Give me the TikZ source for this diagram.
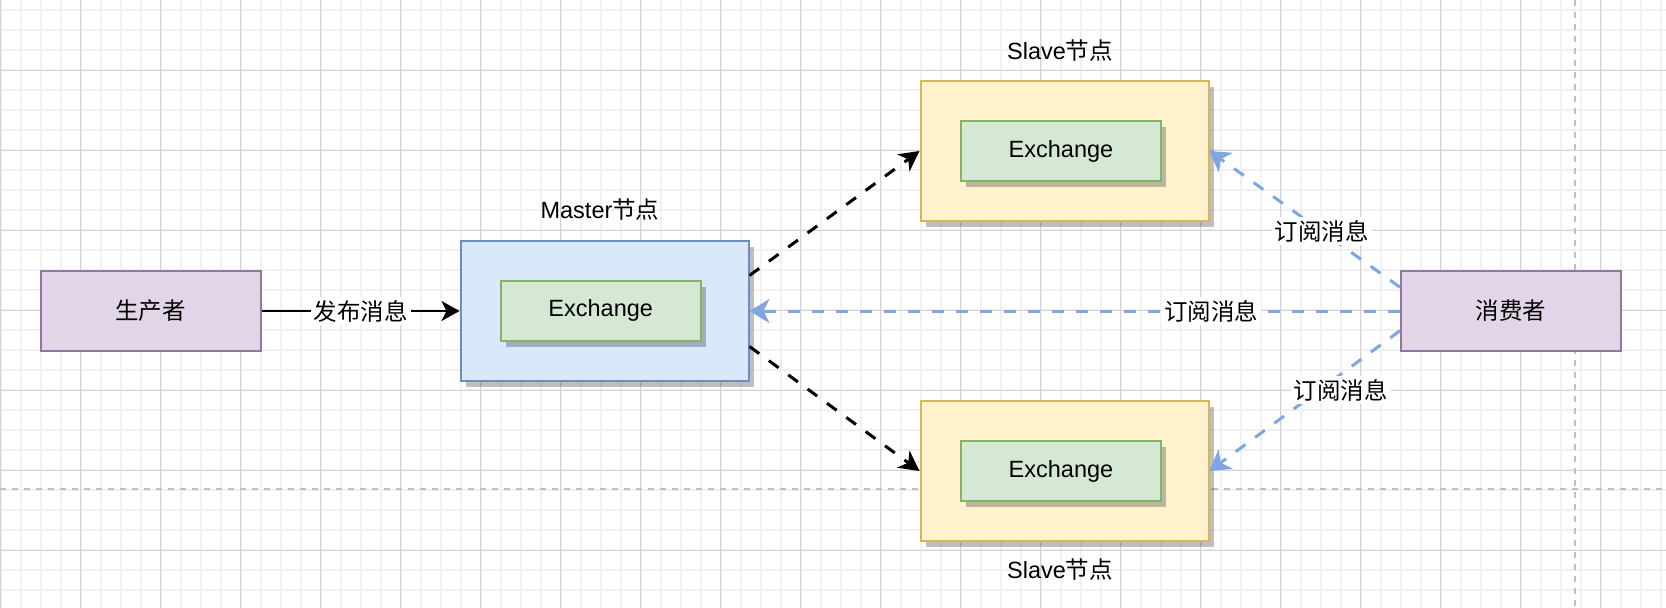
\documentclass[tikz,border=0pt]{standalone}
\usepackage{fontspec}
\setmainfont{Liberation Sans}
\newfontfamily\cjk{Noto Sans CJK SC}
\usetikzlibrary{arrows.meta,shadows,calc}
\definecolor{purpleF}{HTML}{E1D5E7}
\definecolor{purpleD}{HTML}{9673A6}
\definecolor{blueF}{HTML}{DAE8FC}
\definecolor{blueD}{HTML}{6C8EBF}
\definecolor{yellowF}{HTML}{FFF2CC}
\definecolor{yellowD}{HTML}{D6B656}
\definecolor{greenF}{HTML}{D5E8D4}
\definecolor{greenD}{HTML}{82B366}
\definecolor{arrowBlue}{HTML}{7EA6E0}
\definecolor{gridMinor}{HTML}{F0F0F0}
\definecolor{gridMajor}{HTML}{D3D3D3}
\definecolor{pageBreak}{HTML}{C0C0C0}
\newcommand{\dfont}{\fontsize{23.5pt}{28pt}\selectfont}
\begin{document}
\begin{tikzpicture}[x=1pt,y=-1pt,
  gridminorline/.style={draw=gridMinor,line width=2pt},
  gridmajorline/.style={draw=gridMajor,line width=1pt},
  pagebreakline/.style={draw=pageBreak,line width=2pt,dash pattern=on 6pt off 6pt},
  shade box/.style={drop shadow={shadow xshift=5pt,shadow yshift=-6pt,fill=black,opacity=0.25}},
  basebox/.style={draw,line width=2pt,rectangle,inner sep=0pt,font=\dfont,text=black},
  actorbox/.style={basebox,fill=purpleF,draw=purpleD,minimum width=220pt,minimum height=80pt},
  masterbox/.style={basebox,shade box,fill=blueF,draw=blueD,minimum width=288pt,minimum height=140pt},
  slavebox/.style={basebox,shade box,fill=yellowF,draw=yellowD,minimum width=288pt,minimum height=140pt},
  exbox/.style={basebox,shade box,fill=greenF,draw=greenD,minimum width=200pt,minimum height=60pt},
  caption/.style={font=\dfont,text=black,inner sep=0pt},
  elabel/.style={font=\dfont,text=black,fill=white,inner sep=3pt},
  pubarrow/.style={draw=black,line width=2pt,-{Stealth[length=18pt,width=20pt,inset=5pt]}},
  reparrow/.style={draw=black,line width=3pt,dash pattern=on 12pt off 12pt,-{Stealth[length=20pt,width=21pt,inset=6pt]}},
  subarrow/.style={draw=arrowBlue,line width=3pt,dash pattern=on 12pt off 12pt,-{Stealth[length=20pt,width=24pt,inset=6pt]}}
]
\useasboundingbox (0,0) rectangle (1666,608);
\fill[white] (0,0) rectangle (1666,608);
% grid
\foreach \i in {0,...,83} \draw[gridminorline] ({\i*20+0.7},0) -- ({\i*20+0.7},608);
\foreach \j in {0,...,29} \draw[gridminorline] (0,{\j*20+10}) -- (1666,{\j*20+10});
\foreach \i in {0,...,20} \draw[gridmajorline] ({\i*80+0.7},0) -- ({\i*80+0.7},608);
\foreach \j in {0,...,6} \draw[gridmajorline] (0,{\j*80+70}) -- (1666,{\j*80+70});
% page breaks
\draw[pagebreakline] (1575,0) -- (1575,608);
\draw[pagebreakline] (0,489) -- (1666,489);

% nodes
\node[actorbox] (prod) at (150.5,311) {\cjk 生产者};
\node[masterbox] (master) at (604.5,311) {};
\node[exbox] (mex) at (600.7,310.7) {Exchange};
\node[caption] (mlabel) at (600,210) {Master{\cjk 节点}};

\node[slavebox] (stop) at (1064.5,151) {};
\node[exbox] (stex) at (1061,151) {Exchange};
\node[caption] (stlabel) at (1060,51) {Slave{\cjk 节点}};

\node[slavebox] (sbot) at (1064.5,471) {};
\node[exbox] (sbex) at (1061,471) {Exchange};
\node[caption] (sblabel) at (1060,570) {Slave{\cjk 节点}};

\node[actorbox] (cons) at (1511,311) {\cjk 消费者};

% connection points
\coordinate (mOutTop) at ($(master.north east)!0.25!(master.south east)$);
\coordinate (mOutBot) at ($(master.north east)!0.75!(master.south east)$);
\coordinate (cOutTop) at ($(cons.north west)!0.21!(cons.south west)$);
\coordinate (cOutBot) at ($(cons.north west)!0.74!(cons.south west)$);

% connectors
\draw[pubarrow] (prod.east) -- node[elabel] {\cjk 发布消息} (master.west);
\draw[reparrow] (mOutTop) -- (stop.west);
\draw[reparrow] (mOutBot) -- (sbot.west);
\draw[subarrow] (cons.west) -- node[elabel,pos=0.29] {\cjk 订阅消息} (master.east);
\draw[subarrow] (cOutTop) -- node[elabel,pos=0.41] {\cjk 订阅消息} (stop.east);
\draw[subarrow] (cOutBot) -- node[elabel,pos=0.31,yshift=-16pt] {\cjk 订阅消息} (sbot.east);
\end{tikzpicture}
\end{document}
